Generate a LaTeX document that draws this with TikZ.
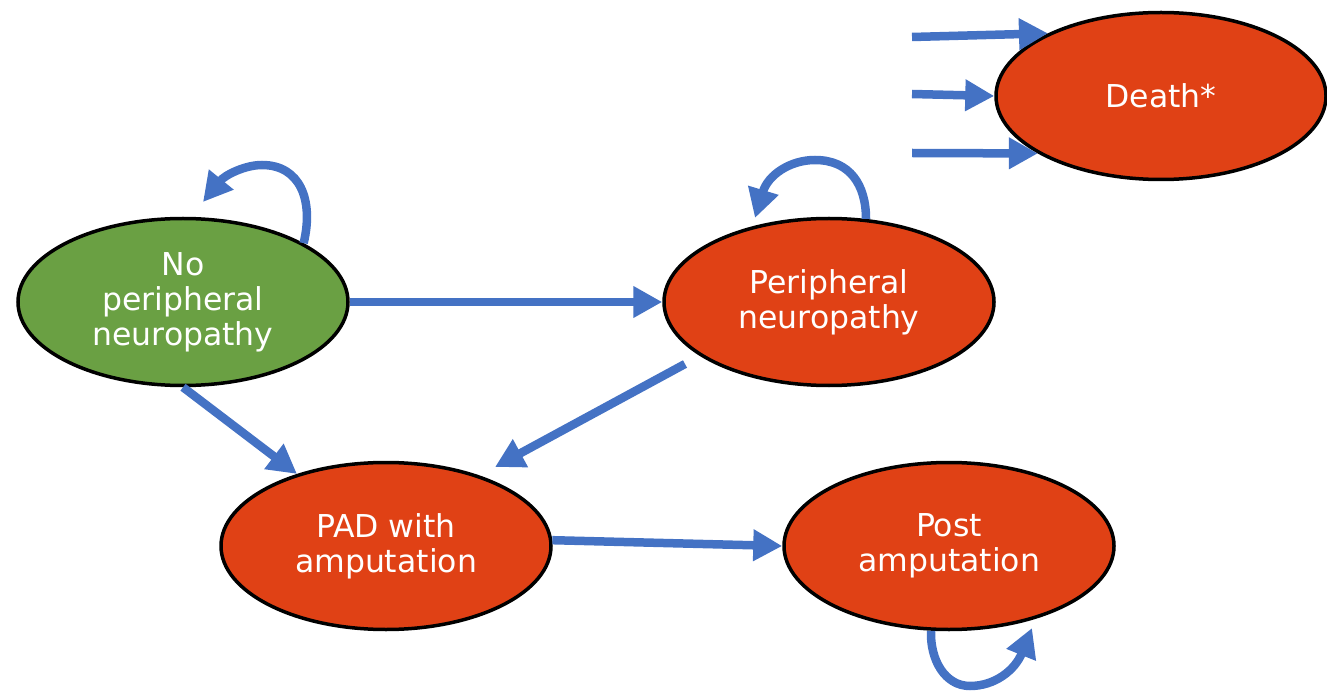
\documentclass[tikz,border=0pt]{standalone}
\usepackage{fontspec}
\setmainfont{DejaVu Sans}
\usetikzlibrary{arrows.meta,calc,shapes.geometric}
\definecolor{stateRed}{HTML}{E04115}
\definecolor{stateGreen}{HTML}{6AA043}
\definecolor{flowBlue}{HTML}{4472C4}
\tikzset{
  state/.style={ellipse, draw=black, line width=3.5pt, fill=stateRed,
    minimum width=330pt, minimum height=167pt, inner sep=0pt,
    text=white, align=center,
    font=\fontsize{31.5pt}{35pt}\selectfont},
  healthy/.style={state, fill=stateGreen},
  flow/.style={draw=flowBlue, line width=8.5pt,
    -{Triangle[length=29pt,width=30pt]}}
}
\begin{document}
\begin{tikzpicture}[x=1pt, y=-1pt]
  \useasboundingbox (0,0) rectangle (1327,692);

  % health states
  \node[healthy] (nopn)  at (183,302) {No\\peripheral\\neuropathy};
  \node[state]   (pn)    at (829,302) {Peripheral\\neuropathy};
  \node[state]   (pad)   at (386,546) {PAD with\\amputation};
  \node[state]   (post)  at (949,546) {Post\\amputation};
  \node[state]   (death) at (1161,96) {Death*};

  % free ends of the arrows into death and of the self loops
  \coordinate (d1) at (912,37);
  \coordinate (d2) at (912,94);
  \coordinate (d3) at (912,153);
  \coordinate (loopA) at (203,202);
  \coordinate (loopB) at (755,218);
  \coordinate (loopC) at (1032,628);

  % transitions between states
  \draw[flow] (nopn.east) -- (pn.west);
  \draw[flow] (nopn.south) -- (pad.141);
  \draw[flow] ($(pn.center)+(-144,62)$) -- ($(pad.center)+(109,-79)$);
  \draw[flow] (pad.2) -- (post.180);

  % transitions into death
  \draw[flow] (d1) -- (death.151);
  \draw[flow] (d2) -- (death.west);
  \draw[flow] (d3) -- (death.205);

  % remaining in the same state
  \draw[flow] (nopn.26) .. controls (314,200) and (300,165) .. (262,165)
              .. controls (245,165) and (225,175) .. (loopA);
  \draw[flow] (pn.66) .. controls (866,185) and (850,160) .. (815,160)
              .. controls (790,160) and (768,175) .. (loopB);
  \draw[flow] (post.258) .. controls (930,660) and (945,686) .. (970,686)
              .. controls (995,686) and (1015,670) .. (loopC);
\end{tikzpicture}
\end{document}
